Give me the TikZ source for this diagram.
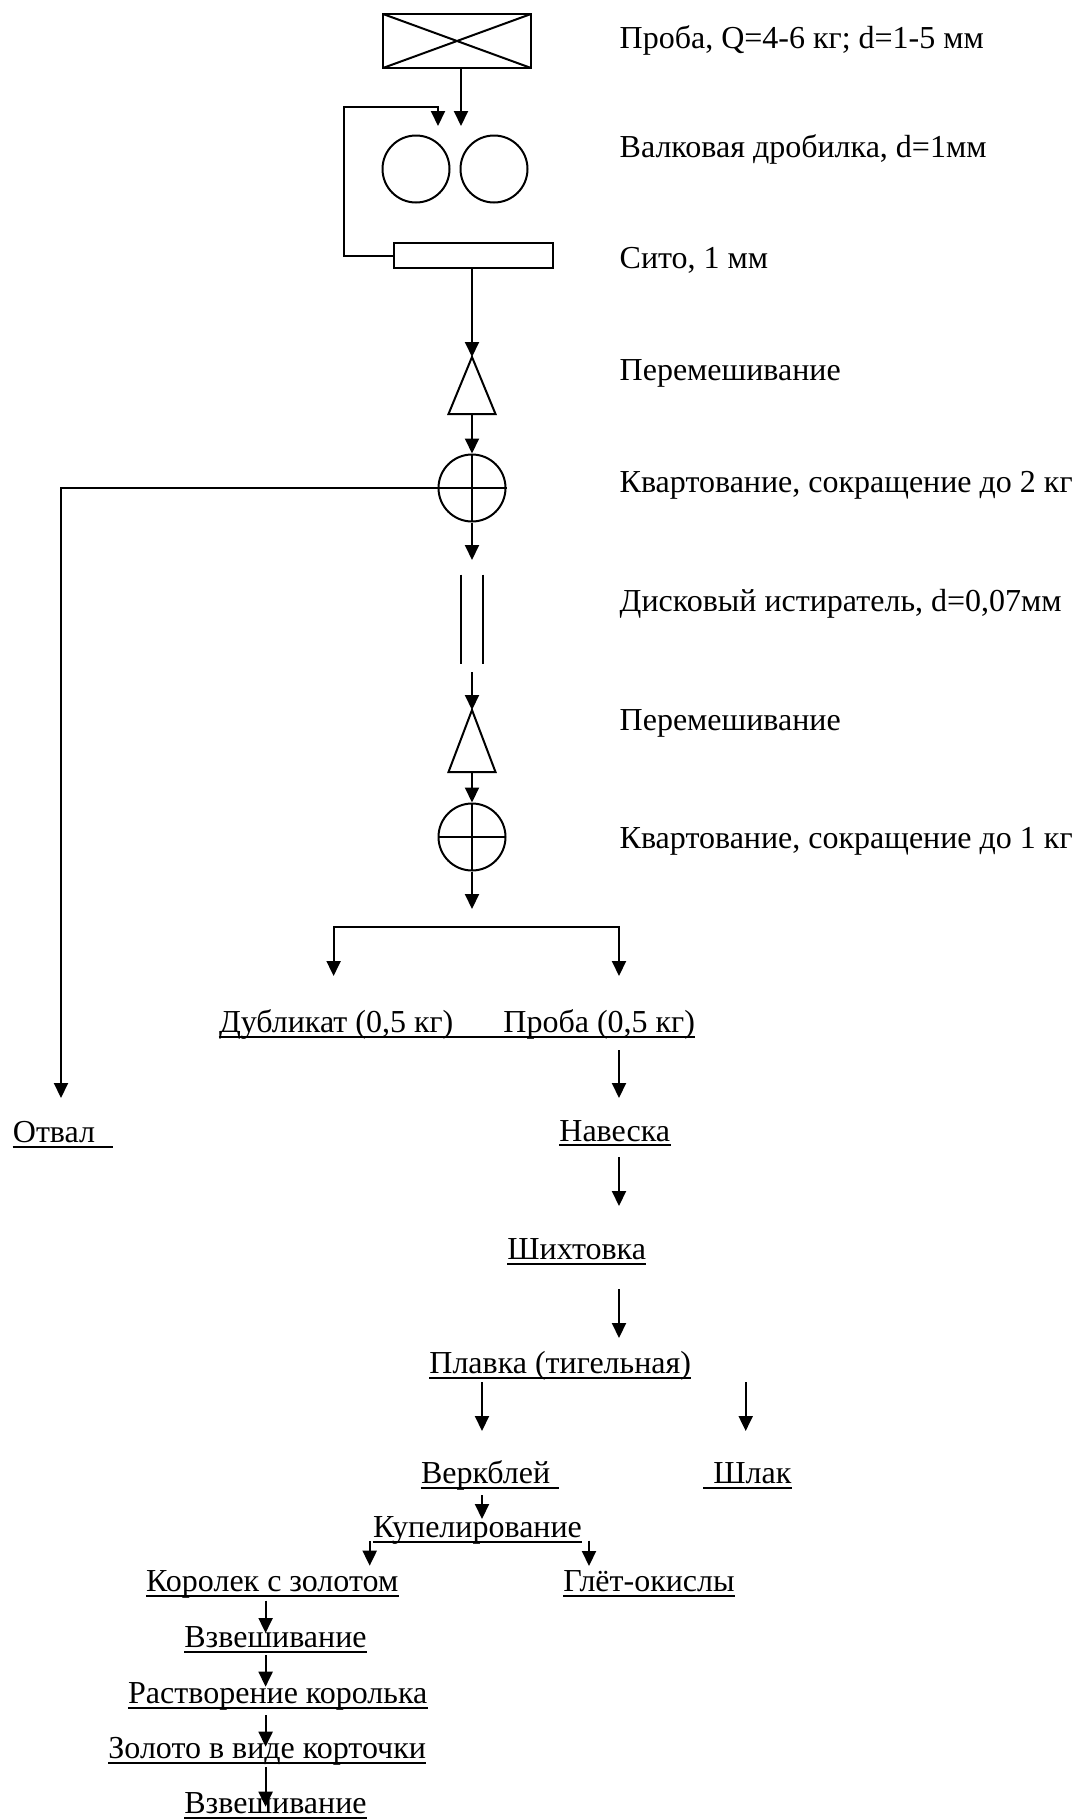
\documentclass[tikz,border=0pt]{standalone}
\usepackage{fontspec}
\setmainfont{Liberation Serif}
\usetikzlibrary{arrows.meta}
\tikzset{
 flow/.style={draw,line width=1pt,-{Triangle[length=7.5pt,width=7pt]}},
 wire/.style={draw,line width=1pt},
 lbl/.style={inner sep=0pt,anchor=base west,font=\fontsize{16}{19}\selectfont},
 ulbl/.style={lbl,append after command={([yshift=-2.15pt]\tikzlastnode.base west)
   edge[wire] ([yshift=-2.15pt]\tikzlastnode.base east)}},
 crossbox/.style={draw,line width=1pt,minimum width=74pt,minimum height=27pt,inner sep=0pt,
   path picture={\draw[line width=1pt] (path picture bounding box.north west) -- (path picture bounding box.south east)
     (path picture bounding box.south west) -- (path picture bounding box.north east);}},
 roll/.style={circle,draw,line width=1pt,minimum size=33.5pt,inner sep=0pt},
 sieve/.style={draw,line width=1pt,minimum width=79.5pt,minimum height=12.5pt,inner sep=0pt},
 quarter/.style={roll,path picture={\draw[line width=1pt] (path picture bounding box.north) -- (path picture bounding box.south)
     (path picture bounding box.west) -- (path picture bounding box.east);}},
 grinder/.style={minimum width=10.5pt,minimum height=44.5pt,inner sep=0pt},
 mixer/.style={draw,line width=1pt,line join=miter}
}
\begin{document}
\begin{tikzpicture}[x=0.5pt,y=-0.5pt]
 \useasboundingbox (0,0) rectangle (1077,1820);
 % crushing and sieving
 \node[crossbox] (sample) at (457,41) {};
 \node[roll] (rollL) at (416,169) {};
 \node[roll] (rollR) at (494,169) {};
 \node[sieve] (sieve) at (473,255.5) {};
 \coordinate (feedA) at (461,126);
 \coordinate (feedB) at (438,126);
 \coordinate (loopTL) at (344,107);
 \draw[flow] (sample.south -| feedA) -- (feedA);
 \draw[flow] (sieve.west) -| (loopTL) -| (feedB);
 % mixing, quartering, grinding
 \coordinate (mixA) at (472,357);
 \coordinate (mixAb) at (472,414);
 \draw[flow] (sieve.south -| mixA) -- (mixA);
 \draw[mixer] (mixA) -- ++(-23.5,57) -- ++(47,0) -- cycle;
 \node[quarter] (quartA) at (472,488) {};
 \draw[flow] (mixAb) -- (quartA);
 \coordinate (dump) at (61,1098);
 \draw[flow] (quartA.east) -| (dump);
 \coordinate (grindIn) at (472,560);
 \draw[flow] (quartA) -- (grindIn);
 \node[grinder] (grind) at (472,619.5) {};
 \draw[wire] (grind.north west) -- (grind.south west) (grind.north east) -- (grind.south east);
 \coordinate (mixB) at (472,710);
 \coordinate (mixBb) at (472,772);
 \draw[flow] ([yshift=-4pt]grind.south) -- (mixB);
 \draw[mixer] (mixB) -- ++(-23.5,62) -- ++(47,0) -- cycle;
 \node[quarter] (quartB) at (472,837) {};
 \draw[flow] (mixBb) -- (quartB);
 \coordinate (splitIn) at (472,909);
 \draw[flow] (quartB) -- (splitIn);
 \coordinate (split) at (472,927);
 \coordinate (dublTip) at (333.6,976);
 \coordinate (probaTip) at (619,976);
 \draw[flow] (split) -| (dublTip);
 \draw[flow] (split) -| (probaTip);
 % operation notes
 \foreach \y/\t [count=\i] in {48.3/{Проба, Q=4-6 кг; d=1-5 мм},157/{Валковая дробилка, d=1мм},
   268/{Сито, 1 мм},380/{Перемешивание},492.5/{Квартование, сокращение до 2 кг},
   611/{Дисковый истиратель, d=0,07мм},730/{Перемешивание},848/{Квартование, сокращение до 1 кг}}
   {\node[lbl] (note\i) at (619.3,\y) {\t};}
 % assay products
 \node[lbl] (dubl) at (218.6,1032.4) {Дубликат (0,5 кг)};
 \node[lbl] (proba) at (503,1032.4) {Проба (0,5 кг)};
 \draw[wire] ([yshift=-2.15pt]dubl.base west) -- ([yshift=-2.15pt]proba.base east);
 \node[ulbl] (otval) at (12.5,1142.4) {Отвал\kern8.5pt};
 \node[ulbl] (naveska) at (559,1141) {Навеска};
 \node[ulbl] (shixt) at (507,1259.7) {Шихтовка};
 \node[ulbl] (plavka) at (429,1373.7) {Плавка (тигельная)};
 \node[ulbl] (verk) at (420.7,1483.4) {Веркблей\kern4pt};
 \node[ulbl] (shlak) at (703,1483.4) {\kern5pt Шлак};
 \node[ulbl] (kupel) at (372.8,1537.7) {Купелирование};
 \node[ulbl] (korolek) at (145.8,1591.7) {Королек с золотом};
 \node[ulbl] (glet) at (563,1591.7) {Глёт-окислы};
 \node[ulbl] (vzvA) at (184,1647.4) {Взвешивание};
 \node[ulbl] (rastv) at (127.8,1703.7) {Растворение королька};
 \node[ulbl] (zoloto) at (108,1758.7) {Золото в виде корточки};
 \node[ulbl] (vzvB) at (184,1813.7) {Взвешивание};
 % arrows between products
 \foreach \n/\x/\ya/\yb in {pn/619/1050/1098,ns/619/1157/1206,sp/619/1289/1338,
   pv/482/1382/1431,ps/745.7/1382/1431,vk/482/1495/1519,kk/369.7/1541/1565.7,
   kg/589/1540.7/1566,kv/265.6/1600.7/1633,vr/265.6/1655/1686.7,
   rz/265.6/1715/1746.7,zv/265.6/1767/1806.7}
   {\coordinate (\n s) at (\x,\ya); \coordinate (\n e) at (\x,\yb);
    \draw[flow] (\n s) -- (\n e);}
\end{tikzpicture}
\end{document}
